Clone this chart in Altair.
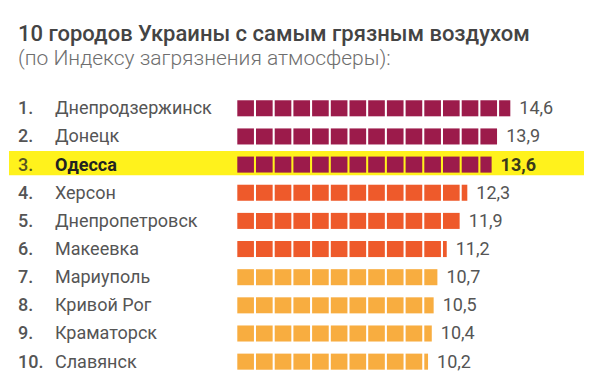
import altair as alt
import pandas as pd
import math

ranks = [1, 2, 3, 4, 5, 6, 7, 8, 9, 10]
cities = ["Днепродзержинск", "Донецк", "Одесса", "Херсон", "Днепропетровск",
          "Макеевка", "Мариуполь", "Кривой Рог", "Краматорск", "Славянск"]
values = [14.6, 13.9, 13.6, 12.3, 11.9, 11.2, 10.7, 10.5, 10.4, 10.2]
groups = ["a", "a", "a", "b", "b", "b", "c", "c", "c", "c"]
value_labels = ["14,6", "13,9", "13,6", "12,3", "11,9", "11,2", "10,7", "10,5", "10,4", "10,2"]
highlight = "Одесса"
title_text = "10 городов Украины с самым грязным воздухом"
subtitle_text = "(по Индексу загрязнения атмосферы):"

FONT = "Roboto"

rows = pd.DataFrame({"rank": ranks, "city": cities, "value": values,
                     "group": groups, "label": [f"{r}." for r in ranks],
                     "vlabel": value_labels})
rows["hl"] = rows["city"] == highlight

# unit squares (one square per index unit, last one partial)
sq = []
for r, v, g in zip(ranks, values, groups):
    n = math.ceil(v)
    for k in range(n):
        x0 = k
        x1 = min(k + 0.89, v)
        sq.append({"rank": r, "x0": x0, "x1": x1, "y0": r - 0.285, "y1": r + 0.285, "group": g})
squares = pd.DataFrame(sq)

W, H = 584, 374
xs = alt.Scale(domain=[-12.262, 18.968], nice=False, zero=False)
ys = alt.Scale(domain=[-2.563, 10.723], nice=False, zero=False, reverse=True)
color = alt.Scale(domain=["a", "b", "c"], range=["#9c1b4b", "#ee5a2b", "#f8ad40"])

hl_rows = rows[rows["hl"]].copy()
hl_rows["y0"] = hl_rows["rank"] - 0.48
hl_rows["y1"] = hl_rows["rank"] + 0.38
normal_rows = rows[~rows["hl"]]
hi_rows = rows[rows["hl"]]

band = alt.Chart(hl_rows).mark_rect(color="#fff21c").encode(
    x=alt.value(1), x2=alt.value(576),
    y=alt.Y("y0:Q", scale=ys, axis=None), y2="y1:Q")

bars = alt.Chart(squares).mark_rect().encode(
    x=alt.X("x0:Q", scale=xs, axis=None), x2="x1:Q",
    y=alt.Y("y0:Q", scale=ys, axis=None), y2="y1:Q",
    color=alt.Color("group:N", scale=color, legend=None))


def text_layers(df, weight, col_rank, col_city, col_val):
    base = alt.Chart(df).encode(y=alt.Y("rank:Q", scale=ys, axis=None))
    r = base.mark_text(align="left", baseline="middle", font=FONT, fontSize=18,
                       fontWeight=500, dy=1, color=col_rank).encode(x=alt.value(10), text="label:N")
    c = base.mark_text(align="left", baseline="middle", font=FONT, fontSize=18,
                       fontWeight=weight, dy=1, color=col_city).encode(x=alt.value(47), text="city:N")
    v = base.mark_text(align="left", baseline="middle", font=FONT, fontSize=18,
                       fontWeight=weight, dx=9, dy=1, color=col_val).encode(
        x=alt.X("value:Q", scale=xs, axis=None), text="vlabel:N")
    return [r, c, v]


txt_normal = text_layers(normal_rows, "normal", "#555555", "#555555", "#555555")
txt_hi = text_layers(hi_rows, "bold", "#555522", "#222222", "#3a3a1a")

titles = pd.DataFrame({"t": [title_text, subtitle_text], "kind": ["title", "sub"]})
title_mark = alt.Chart(titles[titles.kind == "title"]).mark_text(
    align="left", baseline="alphabetic", font=FONT, fontSize=22, fontWeight=500, color="#444444").encode(
    x=alt.value(10), y=alt.value(33), text="t:N")
sub_mark = alt.Chart(titles[titles.kind == "sub"]).mark_text(
    align="left", baseline="alphabetic", font=FONT, fontSize=21, fontWeight=300, color="#6e6e6e").encode(
    x=alt.value(10), y=alt.value(57), text="t:N")

chart = alt.layer(band, bars, *txt_normal, *txt_hi, title_mark, sub_mark).properties(
    width=W, height=H, autosize=alt.AutoSizeParams(type="none"), padding=0,
    background="white"
).configure_view(stroke=None)

chart.save("out.html", embed_options={"renderer": "svg", "actions": False})
